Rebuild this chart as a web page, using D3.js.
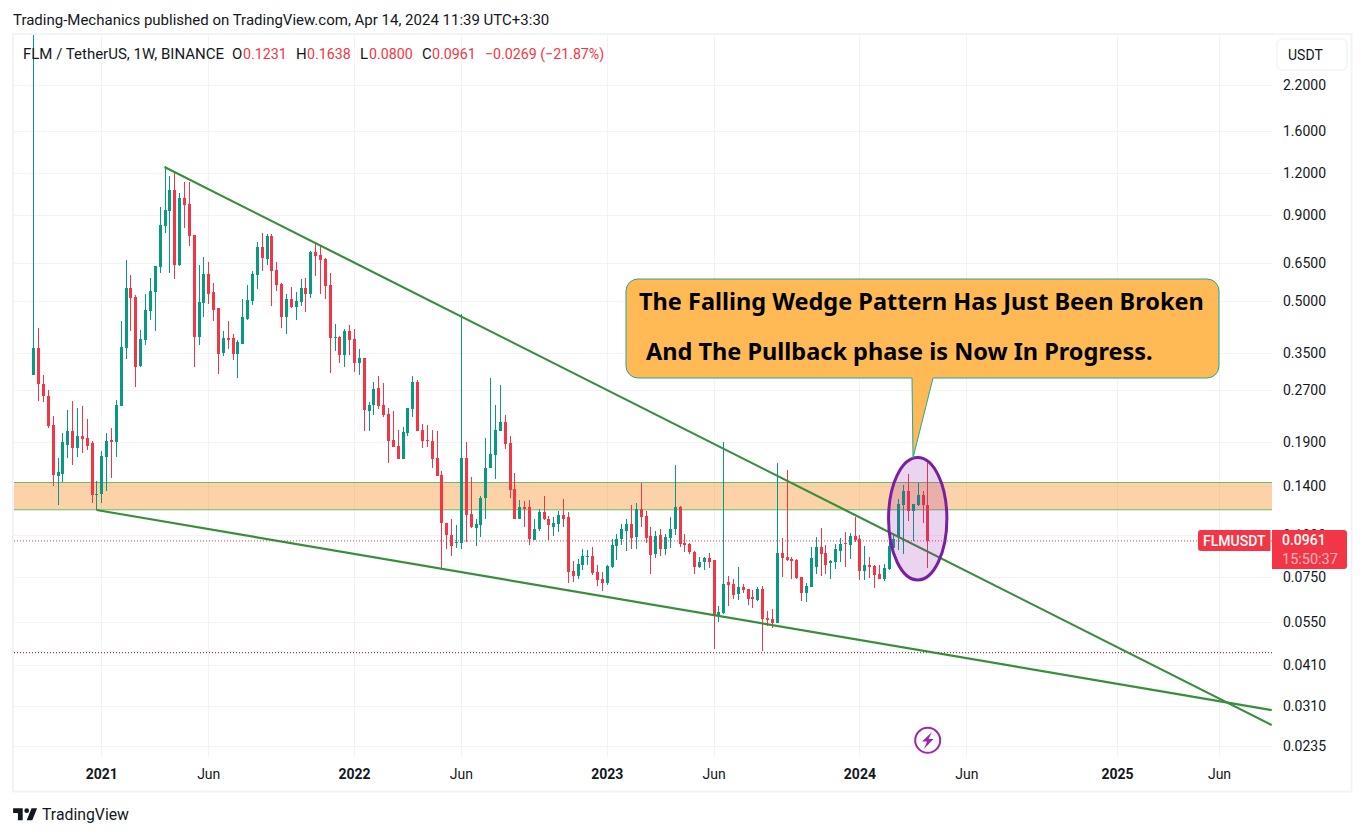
<!DOCTYPE html>
<html>
<head>
<meta charset="utf-8">
<script src="https://cdn.jsdelivr.net/npm/d3@7"></script>
<style>
  html, body { margin: 0; padding: 0; background: #fff; }
  svg { display: block; font-family: Roboto, sans-serif; }
  .axis path, .axis line { display: none; }
  .axis text { font-family: Roboto, sans-serif; font-size: 14px; fill: #131722; }
</style>
</head>
<body>
<div id="chart"></div>
<script>
// weekly candles, one value per week from the first week below
var firstWeek = "2020-09-28";

var highs = [
  3.2,.415,.3,.27,.227,.17,.202,.236,.252,.24,
  .243,.222,.191,.145,.178,.201,.209,.253,.435,.663,
  .596,.519,.409,.524,.583,.633,.953,1.26,1.175,1.2,
  1.05,1.13,1.13,.783,.637,.675,.652,.565,.477,.405,
  .435,.399,.381,.506,.557,.614,.747,.794,.79,.79,
  .651,.565,.525,.549,.531,.582,.585,.703,.74,.733,
  .672,.605,.426,.393,.413,.422,.413,.36,.337,.25,
  .286,.298,.285,.239,.234,.206,.21,.239,.298,.291,
  .215,.213,.206,.205,.155,.109,.1115,.107,.456,.189,
  .149,.112,.131,.195,.294,.245,.281,.228,.198,.153,
  .127,.126,.127,.112,.12,.131,.114,.113,.118,.128,
  .117,.0837,.085,.091,.0905,.0924,.0816,.0775,.0816,.0975,
  .101,.108,.112,.123,.125,.143,.118,.106,.103,.104,
  .101,.113,.162,.1225,.1009,.095,.0897,.0863,.0863,.0882,
  .0845,.0615,.19,.0754,.0738,.0804,.0716,.0692,.0688,.0701,
  .0706,.0592,.0603,.1639,.0983,.156,.0859,.0849,.0748,.0718,
  .092,.0984,.1051,.0935,.0845,.0941,.0983,.1019,.1012,.1135,
  .1,.0931,.0859,.0812,.0812,.0818,.0952,.101,.1278,.1408,
  .152,.124,.143,.135,.1638
];
var opens = [
  .3,.361,.283,.26,.213,.15,.152,.186,.205,.182,
  .198,.195,.188,.132,.133,.171,.192,.189,.242,.361,
  .544,.512,.32,.383,.466,.532,.63,.837,.926,1.068,
  .64,1.01,.97,.783,.39,.492,.602,.53,.475,.349,
  .387,.386,.347,.372,.442,.5,.598,.722,.668,.78,
  .618,.561,.447,.506,.478,.495,.545,.525,.699,.686,
  .667,.559,.387,.39,.345,.407,.385,.325,.337,.234,
  .244,.274,.244,.229,.192,.184,.169,.202,.238,.286,
  .206,.192,.191,.17,.151,.109,.1,.0946,.0946,.17,
  .116,.105,.107,.129,.159,.173,.205,.217,.188,.137,
  .112,.121,.121,.097,.104,.117,.112,.106,.108,.115,
  .113,.0779,.0756,.0816,.086,.0865,.0775,.074,.0719,.0805,
  .093,.0975,.103,.108,.099,.12,.114,.0995,.0878,.1,
  .0911,.0978,.104,.121,.0949,.0941,.0889,.0802,.083,.0857,
  .0845,.0573,.0584,.0726,.0715,.0668,.0698,.0692,.0652,.0641,
  .0692,.0565,.0561,.0547,.0887,.0859,.0849,.0842,.0748,.0674,
  .0701,.0802,.0923,.0883,.0824,.0833,.0899,.0949,.0935,.0995,
  .0974,.0781,.0812,.0807,.0765,.0738,.0791,.0918,.099,.1226,
  .135,.118,.1226,.132,.1231
];
var closes = [
  .361,.282,.26,.211,.151,.154,.19,.205,.182,.198,
  .194,.185,.132,.133,.172,.191,.189,.244,.364,.544,
  .509,.318,.385,.468,.534,.633,.84,.932,1.068,.641,
  1.01,.964,.779,.39,.496,.602,.523,.468,.348,.386,
  .383,.346,.377,.447,.503,.602,.722,.669,.78,.615,
  .557,.447,.506,.478,.499,.545,.525,.699,.68,.663,
  .554,.387,.39,.345,.407,.383,.325,.337,.236,.245,
  .273,.243,.228,.191,.183,.169,.203,.239,.286,.205,
  .191,.191,.169,.15,.1085,.1,.0928,.0953,.17,.115,
  .106,.108,.129,.159,.174,.206,.217,.187,.136,.112,
  .121,.12,.0974,.104,.117,.112,.107,.109,.115,.112,
  .0775,.0756,.0822,.0865,.0865,.0771,.0734,.0719,.081,.0934,
  .0975,.104,.108,.0978,.12,.113,.0978,.0873,.0995,.0911,
  .0985,.104,.121,.094,.0936,.0888,.0802,.0833,.0857,.0834,
  .0573,.059,.0714,.0711,.0665,.0701,.0688,.0647,.0647,.0692,
  .0561,.0557,.0547,.0887,.0852,.0842,.0839,.0743,.0674,.0704,
  .0857,.0923,.0879,.0812,.0838,.0907,.0941,.0941,.0995,.0965,
  .0781,.0812,.0802,.0759,.0738,.0796,.0931,.0976,.1237,.135,
  .118,.1237,.132,.1226,.0961
];
var lows = [
  .3,.252,.249,.209,.14,.123,.144,.17,.162,.171,
  .176,.179,.125,.119,.125,.135,.148,.171,.242,.336,
  .405,.276,.318,.37,.439,.405,.605,.796,.605,.581,
  .635,.826,.728,.318,.369,.447,.49,.435,.302,.341,
  .358,.332,.295,.371,.439,.487,.542,.615,.637,.482,
  .535,.415,.398,.475,.439,.482,.464,.51,.592,.525,
  .506,.305,.354,.325,.317,.345,.306,.301,.204,.204,
  .228,.238,.225,.164,.183,.169,.169,.197,.225,.205,
  .182,.183,.159,.15,.0795,.091,.0864,.0917,.0907,.0953,
  .105,.093,.099,.112,.159,.147,.205,.181,.129,.112,
  .112,.106,.0934,.0965,.103,.111,.0965,.0995,.102,.106,
  .0719,.0725,.0738,.0786,.0812,.076,.0706,.068,.0709,.08,
  .0844,.0934,.0895,.0911,.0911,.106,.0948,.0768,.0854,.0866,
  .0873,.0918,.1,.0921,.0888,.0878,.0768,.0796,.0786,.0796,
  .0456,.0552,.058,.0615,.0647,.0639,.0671,.0618,.0605,.0636,
  .045,.0535,.0527,.0547,.0748,.0839,.0738,.0738,.0636,.0631,
  .0701,.0765,.0754,.0765,.0738,.0791,.0833,.0802,.0849,.0955,
  .0733,.0733,.0743,.0695,.0738,.0728,.0786,.0918,.0905,.0881,
  .11,.0962,.122,.1085,.08
];

// axis ticks
var priceTicks = [2.2, 1.6, 1.2, 0.9, 0.65, 0.5, 0.35, 0.27, 0.19, 0.14, 0.1, 0.075, 0.055, 0.041, 0.031, 0.0235];
var timeTicks = ["2021-01-04", "2021-06-07", "2022-01-03", "2022-06-06", "2023-01-02", "2023-06-05", "2024-01-01", "2024-06-03", "2025-01-06", "2025-06-02"];
var timeLabels = ["2021", "Jun", "2022", "Jun", "2023", "Jun", "2024", "Jun", "2025", "Jun"];

// drawings on the chart, in [date, price]
var upperLine = [["2021-04-05", 1.2527], ["2025-08-17", 0.02714]];
var lowerLine = [["2020-12-28", 0.1188], ["2025-08-17", 0.03008]];
var zonePrices = [0.1435, 0.119];
var supportPrice = 0.0446;
var lastPrice = 0.0961;
var circleDates = ["2024-02-12", "2024-05-06"];
var circlePrices = [0.1705, 0.0735];

var width = 1365, height = 836;
var pane = {left: 14, right: 1272, top: 35, bottom: 757};
var green = "#089981", red = "#F23645", lineGreen = "#388e3c";
var parse = d3.utcParse("%Y-%m-%d");

var x = d3.scaleUtc()
  .domain([parse(firstWeek), parse("2025-06-02")])
  .range([33.3, 1219]);
var y = d3.scaleLog()
  .domain([2.2, 0.0235])
  .range([85, 746]);

var candles = highs.map(function(h, i){
  return {date: d3.utcWeek.offset(parse(firstWeek), i), high: h, open: opens[i], close: closes[i], low: lows[i]};
});

var svg = d3.select("#chart").append("svg")
  .attr("width", width)
  .attr("height", height);

svg.append("clipPath").attr("id", "pane-clip").append("rect")
  .attr("x", pane.left).attr("y", pane.top)
  .attr("width", pane.right - pane.left).attr("height", pane.bottom - pane.top);

// outer frame
svg.append("rect")
  .attr("x", 13).attr("y", 34).attr("width", 1338.5).attr("height", 757.5)
  .attr("fill", "none").attr("stroke", "#f0f3fa").attr("stroke-width", 2);

// grid
var grid = svg.append("g").attr("shape-rendering", "crispEdges");
grid.selectAll(".h").data(priceTicks).enter().append("line")
  .attr("x1", pane.left).attr("x2", pane.right)
  .attr("y1", function(d){ return Math.round(y(d)) + 0.5; })
  .attr("y2", function(d){ return Math.round(y(d)) + 0.5; })
  .attr("stroke", "#f2f3f5");
grid.selectAll(".v").data(timeTicks).enter().append("line")
  .attr("x1", function(d){ return Math.round(x(parse(d))) + 0.5; })
  .attr("x2", function(d){ return Math.round(x(parse(d))) + 0.5; })
  .attr("y1", pane.top).attr("y2", pane.bottom)
  .attr("stroke", "#f2f3f5");

var plot = svg.append("g").attr("clip-path", "url(#pane-clip)");

// orange zone
plot.append("rect")
  .attr("x", pane.left).attr("width", pane.right - pane.left)
  .attr("y", y(zonePrices[0])).attr("height", y(zonePrices[1]) - y(zonePrices[0]))
  .attr("fill", "#f57c00").attr("fill-opacity", 0.34);
plot.selectAll(".zone-edge").data(zonePrices).enter().append("line")
  .attr("x1", pane.left).attr("x2", pane.right)
  .attr("y1", function(d){ return y(d); }).attr("y2", function(d){ return y(d); })
  .attr("stroke", "#66bb6a").attr("stroke-width", 1);

// dotted levels
plot.append("line")
  .attr("x1", pane.left).attr("x2", pane.right)
  .attr("y1", y(lastPrice)).attr("y2", y(lastPrice))
  .attr("stroke", red).attr("stroke-dasharray", "1 2");
plot.append("line")
  .attr("x1", pane.left).attr("x2", pane.right)
  .attr("y1", y(supportPrice)).attr("y2", y(supportPrice))
  .attr("stroke", "#880e1f").attr("stroke-dasharray", "1 2");

// candles
var bars = plot.append("g").attr("shape-rendering", "crispEdges");
bars.selectAll(".wick").data(candles).enter().append("rect")
  .attr("x", function(d){ return Math.round(x(d.date)); })
  .attr("width", 1)
  .attr("y", function(d){ return y(d.high); })
  .attr("height", function(d){ return y(d.low) - y(d.high); })
  .attr("fill", function(d){ return d.close >= d.open ? green : red; });
bars.selectAll(".body").data(candles).enter().append("rect")
  .attr("x", function(d){ return Math.round(x(d.date)) - 1; })
  .attr("width", 3)
  .attr("y", function(d){ return y(Math.max(d.open, d.close)); })
  .attr("height", function(d){ return Math.max(1, Math.abs(y(d.open) - y(d.close))); })
  .attr("fill", function(d){ return d.close >= d.open ? green : red; });

// wedge lines
plot.selectAll(".wedge").data([upperLine, lowerLine]).enter().append("path")
  .attr("d", d3.line()
    .x(function(d){ return x(parse(d[0])); })
    .y(function(d){ return y(d[1]); }))
  .attr("fill", "none")
  .attr("stroke", lineGreen)
  .attr("stroke-width", 2.2);

// circle round the last candles
var cx0 = x(parse(circleDates[0])), cx1 = x(parse(circleDates[1]));
plot.append("ellipse")
  .attr("cx", (cx0 + cx1) / 2).attr("cy", (y(circlePrices[0]) + y(circlePrices[1])) / 2)
  .attr("rx", (cx1 - cx0) / 2).attr("ry", (y(circlePrices[1]) - y(circlePrices[0])) / 2)
  .attr("fill", "#9c27b0").attr("fill-opacity", 0.2)
  .attr("stroke", "#7b1fa2").attr("stroke-width", 3);

// callout
svg.append("path")
  .attr("d", "M638 279H1207a12 12 0 0 1 12 12V366a12 12 0 0 1 -12 12H933L913 458L912 378H638a12 12 0 0 1 -12 -12V291a12 12 0 0 1 12 -12Z")
  .attr("fill", "#ffb955")
  .attr("stroke", "#26a69a");
var calloutFont = "'Noto Sans', sans-serif";
svg.append("text").attr("x", 639).attr("y", 310)
  .attr("font-family", calloutFont).attr("font-weight", 700).attr("font-size", 23.5)
  .attr("fill", "#000").text("The Falling Wedge Pattern Has Just Been Broken");
svg.append("text").attr("x", 646).attr("y", 360)
  .attr("font-family", calloutFont).attr("font-weight", 700).attr("font-size", 23.5)
  .attr("fill", "#000").text("And The Pullback phase is Now In Progress.");

// axes
var yAxis = d3.axisRight(y)
  .tickValues(priceTicks)
  .tickSize(0)
  .tickPadding(0)
  .tickFormat(d3.format(".4f"));
svg.append("g").attr("class", "axis")
  .attr("transform", "translate(1283,0)")
  .call(yAxis);

var xAxis = d3.axisBottom(x)
  .tickValues(timeTicks.map(parse))
  .tickSize(0)
  .tickPadding(0)
  .tickFormat(function(d, i){ return timeLabels[i]; });
svg.append("g").attr("class", "axis")
  .attr("transform", "translate(0,769)")
  .call(xAxis)
  .selectAll("text")
  .style("font-weight", function(d, i){ return timeLabels[i].length == 4 ? 700 : 400; });

// USDT button
svg.append("rect")
  .attr("x", 1277).attr("y", 39).attr("width", 70).attr("height", 31).attr("rx", 5)
  .attr("fill", "#fff").attr("stroke", "#f0f3fa").attr("stroke-width", 1.5);
svg.append("text").attr("x", 1288).attr("y", 60)
  .attr("font-size", 14).attr("fill", "#131722").text("USDT");

// last price tags
svg.append("path")
  .attr("d", "M1270.5 530H1201a3 3 0 0 0 -3 3V548a3 3 0 0 0 3 3H1270.5Z")
  .attr("fill", red);
svg.append("text").attr("x", 1203).attr("y", 546)
  .attr("font-size", 14).attr("font-weight", 500).attr("fill", "#fff").text("FLMUSDT");
svg.append("path")
  .attr("d", "M1272 530H1344a3 3 0 0 1 3 3V566a3 3 0 0 1 -3 3H1272Z")
  .attr("fill", red);
svg.append("text").attr("x", 1282).attr("y", 545)
  .attr("font-size", 14).attr("font-weight", 500).attr("fill", "#fff").text(d3.format(".4f")(lastPrice));
svg.append("text").attr("x", 1282).attr("y", 564)
  .attr("font-size", 14.5).attr("fill", "#fff").attr("fill-opacity", 0.65).text("15:50:37");

// lightning icon
svg.append("circle")
  .attr("cx", 927.7).attr("cy", 740.3).attr("r", 12.5)
  .attr("fill", "#fff").attr("stroke", "#9c27b0").attr("stroke-width", 2);
svg.append("path")
  .attr("d", "M932 732L922 741.5H927L924 749L933.5 739H928.5Z")
  .attr("fill", "#9c27b0");

// header
svg.append("text").attr("x", 13).attr("y", 25)
  .attr("font-size", 15).attr("fill", "#131722")
  .text("Trading-Mechanics published on TradingView.com, Apr 14, 2024 11:39 UTC+3:30");

var legendLabels = ["FLM / TetherUS, 1W, BINANCE", "O", "H", "L", "C"];
var legendLabelX = [23, 232, 296, 360, 422];
var legendValues = ["0.1231", "0.1638", "0.0800", "0.0961", "\u22120.0269 (\u221221.87%)"];
var legendValueX = [243, 307, 369, 432, 485];
svg.selectAll(".legend-label").data(legendLabels).enter().append("text")
  .attr("x", function(d, i){ return legendLabelX[i]; }).attr("y", 59)
  .attr("font-size", 15).attr("fill", "#131722").text(function(d){ return d; });
svg.selectAll(".legend-value").data(legendValues).enter().append("text")
  .attr("x", function(d, i){ return legendValueX[i]; }).attr("y", 59)
  .attr("font-size", 14.2).attr("fill", red).text(function(d){ return d; });

// footer logo
svg.append("path")
  .attr("d", "M14 6H2v6h6v9h6V6Zm12 15h-7l6-15h7l-6 15Zm-7-9a3 3 0 1 0 0-6 3 3 0 0 0 0 6Z")
  .attr("transform", "translate(11.5,803.5) scale(0.8)")
  .attr("fill", "#131722");
svg.append("text").attr("x", 42).attr("y", 820)
  .attr("font-size", 15.8).attr("fill", "#131722").text("TradingView");
</script>
</body>
</html>
